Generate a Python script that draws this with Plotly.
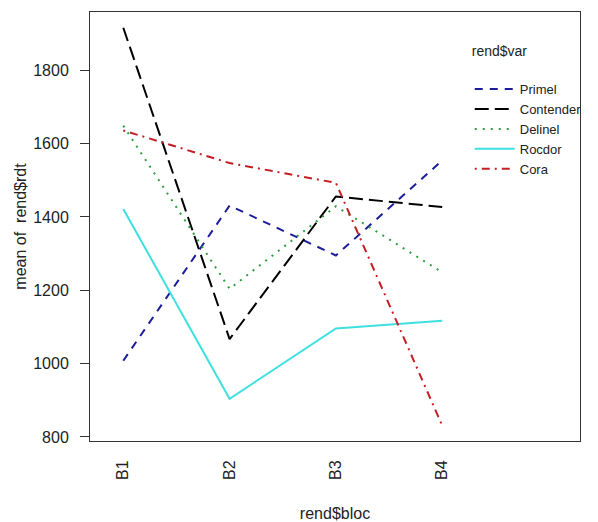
import plotly.graph_objects as go

blocs = ["B1", "B2", "B3", "B4"]
x_pos = [1, 2, 3, 4]
varieties = ["Primel", "Contender", "Delinel", "Rocdor", "Cora"]
primel = [1008, 1431, 1295, 1554]
contender = [1916, 1067, 1456, 1427]
delinel = [1649, 1204, 1429, 1249]
rocdor = [1422, 904, 1096, 1117]
cora = [1636, 1547, 1493, 831]
y_ticks = [800, 1000, 1200, 1400, 1600, 1800]

series = [primel, contender, delinel, rocdor, cora]
colors = ["#1c1c9a", "#000000", "#2e9e3e", "#3fe0e0", "#c41e24"]
dashes = ["8px,7px", "14px,6px", "2px,6px", "solid", "2px,5px,8px,5px"]

fig = go.Figure()
for name, vals, c, d in zip(varieties, series, colors, dashes):
    fig.add_trace(go.Scatter(
        x=x_pos, y=vals, mode="lines", name=name,
        line=dict(color=c, width=2, dash=d),
    ))

# page body has an 8px default margin, so the figure is 8px smaller
font_fam = "Liberation Sans, Arial, sans-serif"
fig.update_layout(
    width=590, height=514,
    margin=dict(l=82, r=18, t=4, b=81, autoexpand=False),
    plot_bgcolor="white", paper_bgcolor="white",
    font=dict(family=font_fam, size=16, color="#222222"),
    showlegend=True,
    legend=dict(
        x=0.775, y=0.94, xanchor="left", yanchor="top",
        bgcolor="rgba(0,0,0,0)",
        font=dict(size=13, color="#222222"),
        title=dict(text="rend$var<br> ", font=dict(size=14, color="#222222"), side="top"),
        itemwidth=40,
    ),
    xaxis=dict(
        range=[0.687, 5.296], automargin=False,
        tickmode="array", tickvals=x_pos, ticktext=blocs,
        tickangle=-90, ticks="", showgrid=False, zeroline=False,
        showline=True, mirror=True, linecolor="#333333", linewidth=1,
        ticklabelstandoff=12,
        title=dict(text="rend$bloc", standoff=30, font=dict(size=16)),
        tickfont=dict(size=16),
    ),
    yaxis=dict(
        range=[789, 1959], automargin=False,
        tickmode="array", tickvals=y_ticks,
        ticks="outside", ticklen=9, tickcolor="#333333",
        showgrid=False, zeroline=False,
        showline=True, mirror=True, linecolor="#333333", linewidth=1,
        ticklabelstandoff=8,
        title=dict(text="mean of\u00a0\u00a0rend$rdt", standoff=2, font=dict(size=16)),
        tickfont=dict(size=16),
    ),
)

fig.write_html("out.html")
